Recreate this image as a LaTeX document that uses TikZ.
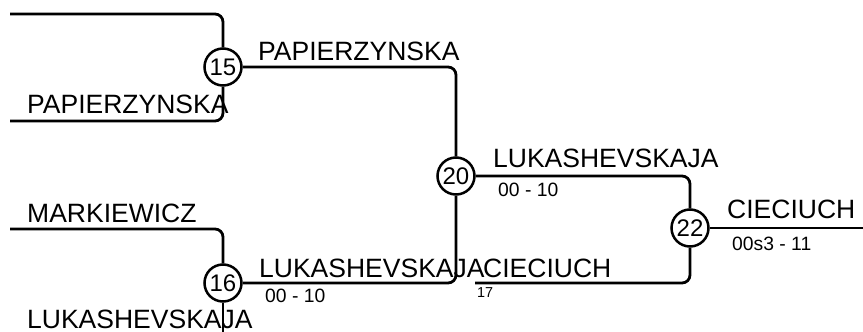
\documentclass[tikz,border=0pt]{standalone}
\usepackage{fontspec}
\setmainfont{Liberation Sans}
\begin{document}
\begin{tikzpicture}[x=1pt,y=-1pt,
  stop/.style={circle, draw, fill=white, line width=2.5pt, minimum size=37pt, inner sep=0pt, font=\fontsize{24}{26}\selectfont},
  road/.style={draw, line width=2.8pt, rounded corners=8pt},
  big/.style={anchor=base west, inner sep=0pt, font=\fontsize{26.5}{30}\selectfont},
  small/.style={anchor=base west, inner sep=0pt, font=\fontsize{19.3}{22}\selectfont},
  tiny/.style={anchor=base west, inner sep=0pt, font=\fontsize{14.4}{16}\selectfont}]
\useasboundingbox (0,0) rectangle (863,332);
\coordinate (a1) at (10,14);
\coordinate (a2) at (10,121);
\coordinate (a3) at (10,229);
\coordinate (a4) at (223,332);
\coordinate (a5) at (475,283);
\coordinate (a6) at (863,228);
\node[stop] (c15) at (223,67) {15};
\node[stop] (c16) at (223,283) {16};
\node[stop] (c20) at (456,176) {20};
\node[stop] (c22) at (690,228) {22};
\draw[road] (a1) -| (c15.north);
\draw[road] (a2) -| (c15.south);
\draw[road] (c15.east) -| (c20.north);
\draw[road] (a3) -| (c16.north);
\draw[road] (c16.east) -| (c20.south);
\draw[road] (c16.south) -- (a4);
\draw[road] (c20.east) -| (c22.north);
\draw[road] (a5) -| (c22.south);
\draw[road] (c22.east) -- (a6);
\node[big] (t1) at (258,60) {PAPIERZYNSKA};
\node[big] (t2) at (27,113) {PAPIERZYNSKA};
\node[big] (t3) at (493,167) {LUKASHEVSKAJA};
\node[small] (t4) at (498,196) {00 - 10};
\node[big] (t5) at (27,222) {MARKIEWICZ};
\node[big] (t6) at (727,218) {CIECIUCH};
\node[small] (t7) at (732,250) {00s3 - 11};
\node[big] (t8) at (259,277) {LUKASHEVSKAJA};
\node[big] (t9) at (483,277) {CIECIUCH};
\node[small] (t10) at (265,302) {00 - 10};
\node[tiny] (t11) at (477,297) {17};
\node[big] (t12) at (27,328) {LUKASHEVSKAJA};
\end{tikzpicture}
\end{document}
